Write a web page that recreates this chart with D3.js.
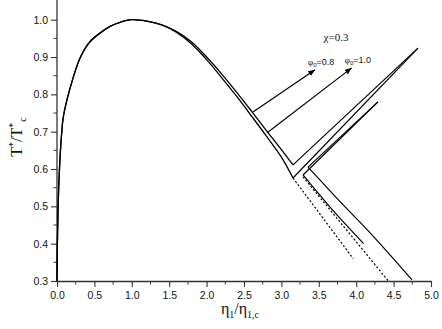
<!DOCTYPE html>
<html>
<head>
<meta charset="utf-8">
<script src="https://cdn.jsdelivr.net/npm/d3@7"></script>
<style>
  body { margin: 0; background: #fff; }
  svg { display: block; }
  .tick-label { font-family: "Liberation Sans", Arial, sans-serif; font-size: 10.5px; fill: #111; }
  .serif { font-family: "Liberation Serif", "Times New Roman", serif; fill: #111; }
</style>
</head>
<body>
<div id="chart"></div>
<script>
// --- DATOS ---
// rama izquierda compartida (binodal)
const leftX = [0.0, 0.005, 0.015, 0.033, 0.06, 0.085, 0.174, 0.307, 0.441, 0.575, 0.709, 0.842, 1.0];
const leftY = [0.3, 0.4, 0.5, 0.6, 0.69, 0.74, 0.816, 0.897, 0.941, 0.964, 0.982, 0.993, 1.0];

// rama derecha, phi0 = 0.8 y phi0 = 1.0
const rightX = [1.2, 1.4, 1.6, 1.8, 2.0, 2.2, 2.4, 2.6, 2.8, 3.0, 3.155];
const right1Y = [0.996, 0.986, 0.968, 0.94, 0.90, 0.855, 0.806, 0.755, 0.703, 0.652, 0.611];
const right2Y = [0.996, 0.986, 0.966, 0.935, 0.893, 0.845, 0.795, 0.742, 0.688, 0.632, 0.576];

// lineas rectas hacia arriba (pares)
const upLines = [
  [[3.155, 0.611], [4.826, 0.924]],
  [[3.155, 0.576], [4.826, 0.924]],
  [[3.289, 0.584], [4.291, 0.78]],
  [[3.356, 0.605], [4.291, 0.78]]
];

// ramas solidas inferiores
const lowSolid1 = [[3.289, 0.584], [3.65, 0.498], [4.10, 0.40]];
const lowSolid2 = [[3.356, 0.605], [3.45, 0.585], [3.75, 0.52], [4.25, 0.415], [4.746, 0.303]];

// ramas punteadas
const dotted1 = [[3.155, 0.576], [3.96, 0.36]];
const dotted2 = [[3.289, 0.579], [4.43, 0.30]];

// flechas y etiquetas
const arrows = [
  { from: [2.62, 0.753], to: [3.45, 0.866], label: "0.8" },
  { from: [2.81, 0.697], to: [3.94, 0.871], label: "1.0" }
];

const xTicks = [0.0, 0.5, 1.0, 1.5, 2.0, 2.5, 3.0, 3.5, 4.0, 4.5, 5.0];
const xMinor = [0.25, 0.75, 1.25, 1.75, 2.25, 2.75, 3.25, 3.75, 4.25, 4.75];
const yTicks = [0.3, 0.4, 0.5, 0.6, 0.7, 0.8, 0.9, 1.0];
const yMinor = [0.35, 0.45, 0.55, 0.65, 0.75, 0.85, 0.95];

// --- SVG ---
const width = 442, height = 329;
const svg = d3.select("#chart").append("svg")
  .attr("width", width).attr("height", height);

const x = d3.scaleLinear().domain([0, 5]).range([57, 431]);
const y = d3.scaleLinear().domain([0.3, 1.0]).range([281, 19.7]);

svg.append("defs").append("marker")
  .attr("id", "arrow")
  .attr("viewBox", "0 -5 10 10")
  .attr("refX", 10).attr("refY", 0)
  .attr("markerWidth", 7).attr("markerHeight", 7)
  .attr("markerUnits", "userSpaceOnUse")
  .attr("orient", "auto")
  .append("path")
  .attr("d", "M0,-4L10,0L0,4Z")
  .attr("fill", "#000");

// Ejes
const gx = svg.append("g").attr("transform", `translate(0,${y(0.3)})`);
gx.call(d3.axisBottom(x).tickValues(xTicks).tickFormat(d3.format(".1f")).tickSize(6).tickSizeOuter(0));
gx.append("g").selectAll("line").data(xMinor).join("line")
  .attr("x1", d => x(d)).attr("x2", d => x(d)).attr("y1", 0).attr("y2", 3.5)
  .attr("stroke", "#333");

const gy = svg.append("g").attr("transform", `translate(${x(0)},0)`);
gy.call(d3.axisLeft(y).tickValues(yTicks).tickFormat(d3.format(".1f")).tickSize(6).tickSizeOuter(0));
gy.append("g").selectAll("line").data(yMinor).join("line")
  .attr("x1", 0).attr("x2", -3.5).attr("y1", d => y(d)).attr("y2", d => y(d))
  .attr("stroke", "#333");

[gx, gy].forEach(g => {
  g.select(".domain").attr("stroke", "#333").attr("stroke-width", 1.3);
  g.selectAll(".tick line").attr("stroke", "#333").attr("stroke-width", 1.1);
  g.selectAll(".tick text").attr("class", "tick-label").attr("fill", null);
});
gx.selectAll(".tick text").attr("dy", "0.9em");
// el eje Y llega hasta el borde superior
gy.select(".domain").attr("d", `M0,${y(0.3)}V0`);

// Curvas
const line = d3.line().x(d => x(d[0])).y(d => y(d[1])).curve(d3.curveCatmullRom);
const lineStraight = d3.line().x(d => x(d[0])).y(d => y(d[1]));

const left = leftX.map((v, i) => [v, leftY[i]]);
const curve1 = left.concat(rightX.map((v, i) => [v, right1Y[i]]));
const curve2 = left.concat(rightX.map((v, i) => [v, right2Y[i]]));

const plot = svg.append("g").attr("fill", "none").attr("stroke", "#000");

plot.selectAll(".binodal").data([curve1, curve2]).join("path")
  .attr("class", "binodal")
  .attr("d", line)
  .attr("stroke-width", 1.3);

plot.selectAll(".up").data(upLines).join("path")
  .attr("class", "up")
  .attr("d", lineStraight)
  .attr("stroke-width", 1.2);

plot.selectAll(".low").data([lowSolid1, lowSolid2]).join("path")
  .attr("class", "low")
  .attr("d", line)
  .attr("stroke-width", 1.2);

plot.selectAll(".dot").data([dotted1, dotted2]).join("path")
  .attr("class", "dot")
  .attr("d", lineStraight)
  .attr("stroke-width", 1.2)
  .attr("stroke-dasharray", "2,2");

// Flechas
svg.selectAll(".arrow").data(arrows).join("line")
  .attr("class", "arrow")
  .attr("x1", d => x(d.from[0])).attr("y1", d => y(d.from[1]))
  .attr("x2", d => x(d.to[0])).attr("y2", d => y(d.to[1]))
  .attr("stroke", "#000").attr("stroke-width", 1.2)
  .attr("marker-end", "url(#arrow)");

const lab = svg.selectAll(".phi").data(arrows).join("text")
  .attr("class", "phi")
  .attr("x", d => x(d.to[0]) - 7)
  .attr("y", d => y(d.to[1]) - 5)
  .attr("font-family", "Liberation Sans, Arial, sans-serif")
  .attr("font-size", 9)
  .attr("fill", "#111");
lab.append("tspan").attr("font-family", "Liberation Serif, serif").text("φ");
lab.append("tspan").attr("font-size", 6).attr("dy", 2).text("0");
lab.append("tspan").attr("dy", -2).text(d => "=" + d.label);

// chi
svg.append("text").attr("class", "serif")
  .attr("x", 336).attr("y", 41)
  .attr("text-anchor", "middle").attr("font-size", 11)
  .text("χ=0.3");

// Titulos de ejes
const xt = svg.append("text").attr("class", "serif")
  .attr("x", 240).attr("y", 314)
  .attr("text-anchor", "middle").attr("font-size", 16);
xt.append("tspan").text("η");
xt.append("tspan").attr("font-size", 10).attr("dy", 4).text("1");
xt.append("tspan").attr("dy", -4).text("/η");
xt.append("tspan").attr("font-size", 10).attr("dy", 4).text("1,c");

const yt = svg.append("text").attr("class", "serif")
  .attr("transform", "translate(22,137) rotate(-90)")
  .attr("text-anchor", "middle").attr("font-size", 16);
yt.append("tspan").text("T");
yt.append("tspan").attr("font-size", 10).attr("dy", -6).text("*");
yt.append("tspan").attr("dy", 6).text("/T");
yt.append("tspan").attr("font-size", 10).attr("dy", -6).text("*");
yt.append("tspan").attr("font-size", 10).attr("dy", 10).attr("dx", 1).text("c");
</script>
</body>
</html>
